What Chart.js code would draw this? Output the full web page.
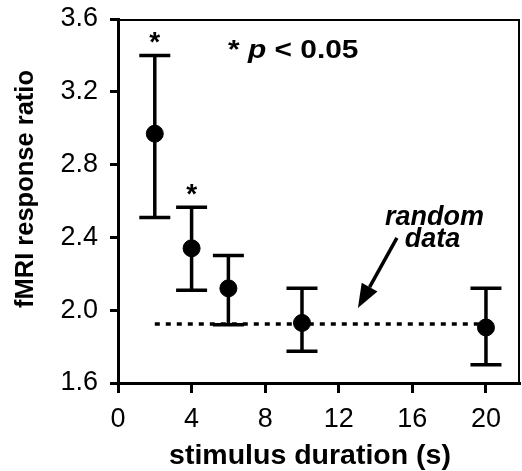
<!DOCTYPE html>
<html>
<head>
<meta charset="utf-8">
<script src="https://cdn.jsdelivr.net/npm/chart.js@4.4.0/dist/chart.umd.min.js"></script>
<style>
html,body{margin:0;padding:0;background:#fff;}
#wrap{width:522px;height:471px;}
</style>
</head>
<body>
<div id="wrap"><canvas id="c" width="522" height="471"></canvas></div>
<script>
// ---- data ----
const durations = [2, 4, 6, 10, 20];
const meanRatio = [2.97, 2.34, 2.12, 1.93, 1.905];
const upperErr = [3.40, 2.565, 2.30, 2.12, 2.12];
const lowerErr = [2.51, 2.11, 1.92, 1.775, 1.70];
const significant = [true, true, false, false, false];
const randomX = [2, 20.5];
const randomY = [1.924, 1.924];
const xTicks = [0, 4, 8, 12, 16, 20];
const yTicks = [1.6, 2.0, 2.4, 2.8, 3.2, 3.6];
const xTitle = 'stimulus duration (s)';
const yTitle = 'fMRI response ratio';

const FONT = '"Liberation Sans", Arial, Helvetica, sans-serif';

const pointsData = durations.map((d, i) => ({x: d, y: meanRatio[i]}));
const randomData = randomX.map((d, i) => ({x: d, y: randomY[i]}));

const errorBars = {
  id: 'errorBars',
  beforeDatasetsDraw(chart) {
    const ctx = chart.ctx, xs = chart.scales.x, ys = chart.scales.y;
    ctx.save();
    ctx.strokeStyle = '#000';
    ctx.lineWidth = 3.5;
    ctx.lineCap = 'butt';
    durations.forEach((d, i) => {
      const px = xs.getPixelForValue(d);
      const pt = ys.getPixelForValue(upperErr[i]);
      const pb = ys.getPixelForValue(lowerErr[i]);
      ctx.beginPath();
      ctx.moveTo(px, pt); ctx.lineTo(px, pb);
      ctx.moveTo(px - 15.5, pt); ctx.lineTo(px + 15.5, pt);
      ctx.moveTo(px - 15.5, pb); ctx.lineTo(px + 15.5, pb);
      ctx.stroke();
    });
    ctx.restore();
  },
  afterDatasetsDraw(chart) {
    const ctx = chart.ctx, xs = chart.scales.x, ys = chart.scales.y;
    const a = chart.chartArea;
    ctx.save();
    // top and right frame
    ctx.strokeStyle = '#000';
    ctx.lineWidth = 2;
    ctx.beginPath();
    ctx.moveTo(a.left, a.top + 1); ctx.lineTo(a.right - 1, a.top + 1);
    ctx.lineTo(a.right - 1, a.bottom);
    ctx.stroke();

    ctx.fillStyle = '#000';
    // significance stars
    ctx.font = 'bold 28px ' + FONT;
    ctx.textAlign = 'center';
    ctx.textBaseline = 'alphabetic';
    durations.forEach((d, i) => {
      if (!significant[i]) return;
      const px = xs.getPixelForValue(d);
      const pt = ys.getPixelForValue(upperErr[i]);
      ctx.fillText('*', px, pt - 4);
    });

    // note "* p < 0.05"
    const nx = xs.getPixelForValue(5.98);
    const ny = ys.getPixelForValue(3.386);
    ctx.save();
    ctx.translate(nx, ny);
    ctx.scale(1.15, 1);
    ctx.textAlign = 'left';
    let x = 0;
    const parts = [['* ', 'bold 26px '], ['p', 'italic bold 26px '], [' < 0.05', 'bold 26px ']];
    parts.forEach(([t, f]) => {
      ctx.font = f + FONT;
      ctx.fillText(t, x, 0);
      x += ctx.measureText(t).width;
    });
    ctx.restore();

    // random data label
    ctx.font = 'italic bold 27px ' + FONT;
    ctx.textAlign = 'center';
    ctx.textBaseline = 'middle';
    ctx.fillText('random', xs.getPixelForValue(17.2), ys.getPixelForValue(2.51));
    ctx.fillText('data', xs.getPixelForValue(17.1), ys.getPixelForValue(2.386));

    // arrow
    const x0 = xs.getPixelForValue(15.16), y0 = ys.getPixelForValue(2.397);
    const x1 = xs.getPixelForValue(13.04), y1 = ys.getPixelForValue(2.012);
    const ang = Math.atan2(y1 - y0, x1 - x0);
    const hl = 24, hw = 9;
    const bx = x1 - hl * Math.cos(ang), by = y1 - hl * Math.sin(ang);
    ctx.lineWidth = 3.5;
    ctx.beginPath();
    ctx.moveTo(x0, y0); ctx.lineTo(bx, by);
    ctx.stroke();
    ctx.beginPath();
    ctx.moveTo(x1, y1);
    ctx.lineTo(bx + hw * Math.sin(ang), by - hw * Math.cos(ang));
    ctx.lineTo(bx - hw * Math.sin(ang), by + hw * Math.cos(ang));
    ctx.closePath();
    ctx.fill();

    // axis titles
    ctx.font = 'bold 28.5px ' + FONT;
    ctx.textAlign = 'center';
    ctx.textBaseline = 'middle';
    ctx.fillText(xTitle, 310, 456);
    ctx.save();
    ctx.translate(26, 189);
    ctx.rotate(-Math.PI / 2);
    ctx.font = 'bold 25.5px ' + FONT;
    ctx.fillText(yTitle, 0, 0);
    ctx.restore();
    ctx.restore();
  }
};

new Chart(document.getElementById('c'), {
  type: 'scatter',
  data: {
    datasets: [
      {
        type: 'line',
        data: randomData,
        borderColor: '#000',
        borderWidth: 3.5,
        borderDash: [5, 6],
        pointRadius: 0,
        fill: false,
        order: 2
      },
      {
        data: pointsData,
        backgroundColor: '#000',
        borderColor: '#000',
        pointRadius: 8.5,
        pointHoverRadius: 8.5,
        order: 1
      }
    ]
  },
  options: {
    responsive: false,
    animation: false,
    events: [],
    layout: {autoPadding: false, padding: {top: 19, right: 2, left: 0, bottom: 0}},
    plugins: {legend: {display: false}, tooltip: {enabled: false}},
    scales: {
      x: {
        type: 'linear',
        min: 0,
        max: 21.85,
        afterBuildTicks(s) { s.ticks = xTicks.map(v => ({value: v})); },
        afterFit(s) { s.height = 88; s.paddingLeft = 0; s.paddingRight = 0; },
        border: {display: true, color: '#000', width: 3},
        grid: {drawOnChartArea: false, drawTicks: true, tickLength: 10, tickWidth: 3, tickColor: '#000'},
        ticks: {color: '#000', font: {family: FONT, size: 27}, padding: 10, maxRotation: 0,
                callback: v => String(v)},
        title: {display: false}
      },
      y: {
        type: 'linear',
        min: 1.6,
        max: 3.6,
        afterBuildTicks(s) { s.ticks = yTicks.map(v => ({value: v})); },
        afterFit(s) { s.width = 118; s.paddingTop = 0; s.paddingBottom = 0; },
        border: {display: true, color: '#000', width: 3},
        grid: {drawOnChartArea: false, drawTicks: true, tickLength: 8, tickWidth: 3, tickColor: '#000'},
        ticks: {color: '#000', font: {family: FONT, size: 27}, padding: 12,
                callback: v => Number(v).toFixed(1)},
        title: {display: false}
      }
    }
  },
  plugins: [errorBars]
});
</script>
</body>
</html>
